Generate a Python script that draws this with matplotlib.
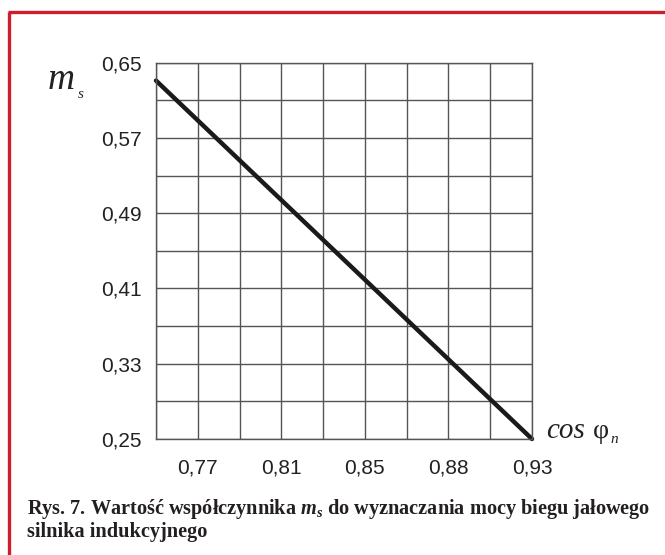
import matplotlib
matplotlib.use("Agg")
import matplotlib.pyplot as plt
from matplotlib.lines import Line2D
import numpy as np

# grid positions along x (9 columns), labels on every second line
x_labels = ["0,77", "0,81", "0,85", "0,88", "0,93"]
x_label_pos = [1, 3, 5, 7, 9]
y_ticks = [0.25, 0.33, 0.41, 0.49, 0.57, 0.65]

# the characteristic m_s(cos phi_n)
line_x = [0, 9]
line_y = [0.631, 0.25]

plt.rcParams["mathtext.fontset"] = "custom"
plt.rcParams["mathtext.rm"] = "Liberation Serif"
plt.rcParams["mathtext.it"] = "Liberation Serif:italic"
plt.rcParams["mathtext.bf"] = "Liberation Serif:bold"
plt.rcParams["mathtext.bfit"] = "Liberation Serif:italic:bold"

W, H = 665, 555
fig = plt.figure(figsize=(W / 100, H / 100), dpi=100)
ax = fig.add_axes([156 / W, 1 - 439 / H, 376 / W, 376.3 / H])

grid_col = "#555555"
ax.set_xlim(0, 9)
ax.set_ylim(0.25, 0.65)
ax.set_xticks(np.arange(0, 10), minor=True)
ax.set_yticks(np.arange(0.25, 0.651, 0.04), minor=True)
ax.set_xticks(x_label_pos)
ax.set_xticklabels(x_labels)
ax.set_yticks(y_ticks)
ax.set_yticklabels([f"{v:.2f}".replace(".", ",") for v in y_ticks])
ax.grid(which="both", color=grid_col, linewidth=1.0)
ax.tick_params(which="both", length=0)
ax.tick_params(axis="x", pad=14)
ax.tick_params(axis="y", pad=10)
for lab in ax.get_xticklabels() + ax.get_yticklabels():
    lab.set_fontfamily("Liberation Sans")
    lab.set_fontsize(15)
    lab.set_color("#222222")
for s in ax.spines.values():
    s.set_color(grid_col)
    s.set_linewidth(1.0)

ax.plot(line_x, line_y, color="#1a1a1a", linewidth=3.2, solid_capstyle="round", clip_on=False)

ital = dict(fontfamily="Liberation Serif", fontstyle="italic", color="#222222", va="baseline")
fig.text(48 / W, 1 - 89 / H, "m", fontsize=27, **ital)
fig.text(78 / W, 1 - 98 / H, "s", fontsize=11, **ital)
fig.text(546 / W, 1 - 438 / H, "cos", fontsize=21, **ital)
fig.text(593 / W, 1 - 438 / H, "φ", fontsize=20, fontfamily="Liberation Serif",
         color="#222222", va="baseline")
fig.text(610 / W, 1 - 443 / H, "n", fontsize=11, **ital)

cap = dict(fontsize=14.6, fontfamily="Liberation Serif", fontweight="bold", color="#231f20")
fig.text(27 / W, 1 - 514 / H,
         r"Rys. 7. Wartość współczynnika $\mathbfit{m}_\mathbfit{s}$ do wyznaczania mocy biegu jałowego",
         va="baseline", **cap)
fig.text(27 / W, 1 - 537 / H, "silnika indukcyjnego", va="baseline", **cap)

red = "#cc1f2d"
fig.add_artist(Line2D([9 / W, 9 / W], [0, 1 - 12 / H], color=red, linewidth=2.4,
                      transform=fig.transFigure, solid_capstyle="butt"))
fig.add_artist(Line2D([7.8 / W, 1], [1 - 12 / H, 1 - 12 / H], color=red, linewidth=2.4,
                      transform=fig.transFigure, solid_capstyle="butt"))

fig.savefig("out.png", dpi=100)
